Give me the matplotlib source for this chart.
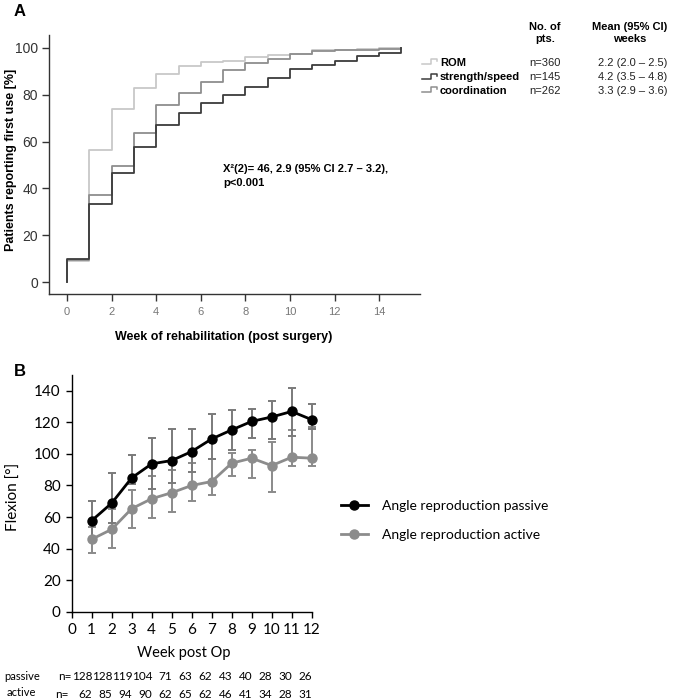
import matplotlib
matplotlib.use("Agg")
import matplotlib.pyplot as plt
import numpy as np

W, H = 673, 699
DPI = 100

# ---------------- Panel A data ----------------
weeks_A = list(range(0, 16))
rom_levels = [9.0, 56.5, 74.0, 83.0, 89.0, 92.3, 94.0, 94.5, 96.3, 97.0, 97.5, 99.0, 99.3, 99.7, 99.8, 100.0]
strength_levels = [10.0, 33.5, 46.4, 57.5, 67.1, 72.0, 76.6, 79.9, 83.5, 87.0, 90.9, 92.5, 94.6, 96.6, 98.0, 100.0]
coord_levels = [9.5, 37.3, 49.6, 63.8, 75.8, 80.6, 85.6, 90.6, 93.4, 95.2, 97.3, 98.6, 98.9, 99.2, 99.5, 100.0]
series_A = ["ROM", "strength/speed", "coordination"]
n_pts = ["n=360", "n=145", "n=262"]
mean_ci = ["2.2 (2.0 \u2013 2.5)", "4.2 (3.5 \u2013 4.8)", "3.3 (2.9 \u2013 3.6)"]
colors_A = ["#c8c8c8", "#3c3c3c", "#8e8e8e"]
yticks_A = [0, 20, 40, 60, 80, 100]
xticks_A = [0, 2, 4, 6, 8, 10, 12, 14]

# ---------------- Panel B data ----------------
weeks_B = list(range(1, 13))
passive_mean = [57.7, 68.8, 84.8, 93.7, 95.8, 101.5, 109.5, 115.2, 120.6, 123.4, 126.9, 121.7]
passive_upper = [69.9, 88.0, 99.0, 109.9, 115.6, 115.6, 125.5, 127.8, 128.4, 133.3, 141.7, 131.4]
passive_lower = [46.0, 56.2, 81.0, 77.5, 81.7, 88.8, 97.0, 102.7, 109.9, 109.5, 111.6, 115.8]
active_mean = [45.9, 52.2, 65.3, 71.6, 75.4, 80.0, 82.5, 94.1, 97.3, 92.6, 97.9, 97.3]
active_upper = [53.5, 65.0, 77.0, 86.3, 89.5, 94.3, 96.8, 100.6, 102.7, 107.8, 115.4, 116.8]
active_lower = [37.3, 40.6, 53.1, 59.6, 63.2, 70.1, 74.1, 86.3, 85.0, 75.8, 92.6, 92.6]
n_passive = ["128", "128", "119", "104", "71", "63", "62", "43", "40", "28", "30", "26"]
n_active = ["62", "85", "94", "90", "62", "65", "62", "46", "41", "34", "28", "31"]
xticks_B = list(range(0, 13))
yticks_B = [0, 20, 40, 60, 80, 100, 120, 140]

FA = "Liberation Sans"
FB = "Lato"

fig = plt.figure(figsize=(W / DPI, H / DPI), dpi=DPI)


def box(x0, y0, x1, y1):
    return [x0 / W, 1 - y1 / H, (x1 - x0) / W, (y1 - y0) / H]


# ---------------- Panel A ----------------
axA = fig.add_axes(box(49, 35, 420, 294))
order = [(rom_levels, colors_A[0]), (coord_levels, colors_A[2]), (strength_levels, colors_A[1])]
for lev, c in order:
    xs = [weeks_A[0]] + weeks_A
    ys = [0] + lev
    axA.plot(xs, ys, drawstyle="steps-post", color=c, lw=1.3)
axA.set_xlim(-0.81, 15.83)
axA.set_ylim(-5.1, 105.5)
axA.set_xticks(xticks_A)
axA.set_yticks(yticks_A)
for s in ["top", "right"]:
    axA.spines[s].set_visible(False)
for s in ["left", "bottom"]:
    axA.spines[s].set_color("#333333")
    axA.spines[s].set_linewidth(1.0)
axA.tick_params(axis="y", direction="out", length=5, width=1, color="#333333",
                labelsize=10, labelcolor="#333333", pad=3)
axA.tick_params(axis="x", direction="out", length=5, width=1, color="#333333",
                labelsize=8, labelcolor="#777777", pad=4)
for lab in axA.get_xticklabels() + axA.get_yticklabels():
    lab.set_fontfamily(FA)
axA.set_xlabel("Week of rehabilitation (post surgery)", fontfamily=FA, fontweight="bold",
               fontsize=9)
axA.xaxis.set_label_coords((224 - 49) / 371, -(331 - 294) / 259)
axA.set_ylabel("Patients reporting first use [%]", fontfamily=FA, fontweight="bold",
               fontsize=9)
axA.yaxis.set_label_coords(-(49 - 17) / 371, (294 - 160) / 259)
axA.text(7.0, 45.5, "X\u00b2(2)= 46, 2.9 (95% CI 2.7 \u2013 3.2),\np<0.001", fontfamily=FA,
         fontweight="bold", fontsize=8, va="center", ha="left", linespacing=1.5)

# ---------------- Panel B ----------------
axB = fig.add_axes(box(71.7, 375, 311.7, 611.7))
yerr_p = [np.array(passive_mean) - np.array(passive_lower), np.array(passive_upper) - np.array(passive_mean)]
yerr_a = [np.array(active_mean) - np.array(active_lower), np.array(active_upper) - np.array(active_mean)]
eb_a = axB.errorbar(weeks_B, active_mean, yerr=yerr_a, fmt="none", ecolor="#8a8a8a", elinewidth=1.4,
                    capsize=3, capthick=1.4, zorder=2)
eb_p = axB.errorbar(weeks_B, passive_mean, yerr=yerr_p, fmt="none", ecolor="#7a7a7a", elinewidth=1.4,
                    capsize=3, capthick=1.4, zorder=2)
for eb in (eb_a, eb_p):
    for art in eb.lines[1] + eb.lines[2]:
        art.set_clip_on(False)
la, = axB.plot(weeks_B, active_mean, "-o", color="#8c8c8c", lw=2, ms=6.5, zorder=3,
               label="Angle reproduction active", clip_on=False)
lp, = axB.plot(weeks_B, passive_mean, "-o", color="#000000", lw=2, ms=6.5, zorder=4,
               label="Angle reproduction passive", clip_on=False)
axB.set_xlim(0, 12)
axB.set_ylim(0, 150)
axB.set_xticks(xticks_B)
axB.set_yticks(yticks_B)
for s in ["top", "right"]:
    axB.spines[s].set_visible(False)
for s in ["left", "bottom"]:
    axB.spines[s].set_color("#000000")
    axB.spines[s].set_linewidth(1.0)
axB.tick_params(axis="both", direction="out", length=4, width=1, labelsize=11,
                labelcolor="#000000", pad=4)
for lab in axB.get_xticklabels() + axB.get_yticklabels():
    lab.set_fontfamily(FB)
axB.set_ylabel("Flexion [\u00b0]", fontfamily=FB, fontsize=11)
axB.yaxis.set_label_coords(-(71.7 - 21) / 240, (611.7 - 497) / 236.7)
fig.legend([lp, la], [lp.get_label(), la.get_label()], loc="upper left",
           bbox_to_anchor=(328 / W, 1 - 487 / H),
           frameon=False, prop={"family": FB, "size": 10}, handlelength=2.0,
           labelspacing=1.25, handletextpad=1.0)

# ---------------- overlay for annotations ----------------
ov = fig.add_axes([0, 0, 1, 1], zorder=10)
ov.set_xlim(0, W)
ov.set_ylim(H, 0)
ov.axis("off")
ov.patch.set_alpha(0)

ov.text(14, 12, "A", fontfamily=FA, fontweight="bold", fontsize=12, va="center", ha="left")
ov.text(14, 371, "B", fontfamily=FA, fontweight="bold", fontsize=12, va="center", ha="left")

# Panel A table header
ov.text(545, 33, "No. of\npts.", fontfamily=FA, fontweight="bold", fontsize=8, ha="center",
        va="center", linespacing=1.3)
ov.text(630, 33, "Mean (95% CI)\nweeks", fontfamily=FA, fontweight="bold", fontsize=8,
        ha="center", va="center", linespacing=1.3)
rows_y = [63, 77.5, 91]
for i, (name, npt, mc, c) in enumerate(zip(series_A, n_pts, mean_ci, colors_A)):
    y = rows_y[i]
    ov.plot([422, 431, 431, 437, 437], [y + 1, y + 1, y - 4, y - 4, y - 2], color=c, lw=1.1)
    ov.text(440, y, name, fontfamily=FA, fontweight="bold", fontsize=8, va="center", ha="left")
    ov.text(529, y, npt, fontfamily=FA, fontsize=8, va="center", ha="left", color="#222222")
    ov.text(598, y, mc, fontfamily=FA, fontsize=8, va="center", ha="left", color="#222222")

# Panel B x label and n rows
ov.text(184, 653, "Week post Op", fontfamily=FB, fontsize=10.5, ha="center", va="center")
ov.text(4, 676, "passive", fontfamily=FB, fontsize=8, ha="left", va="center")
ov.text(7, 693, "active", fontfamily=FB, fontsize=8, ha="left", va="center")
x1px = axB.transData.transform((weeks_B[0], 0))[0]
ov.text(x1px - 20.5, 677, "n=", fontfamily=FB, fontsize=8.5, ha="right", va="center")
ov.text(55, 694, "n=", fontfamily=FB, fontsize=8.5, ha="left", va="center")
for wk, npv, nav in zip(weeks_B, n_passive, n_active):
    xpx = axB.transData.transform((wk, 0))[0]
    ov.text(xpx + 0.5, 677, npv, fontfamily=FB, fontsize=8.5, ha="right", va="center")
    ov.text(xpx + 0.5, 694, nav, fontfamily=FB, fontsize=8.5, ha="right", va="center")

fig.savefig("out.png", dpi=DPI)
